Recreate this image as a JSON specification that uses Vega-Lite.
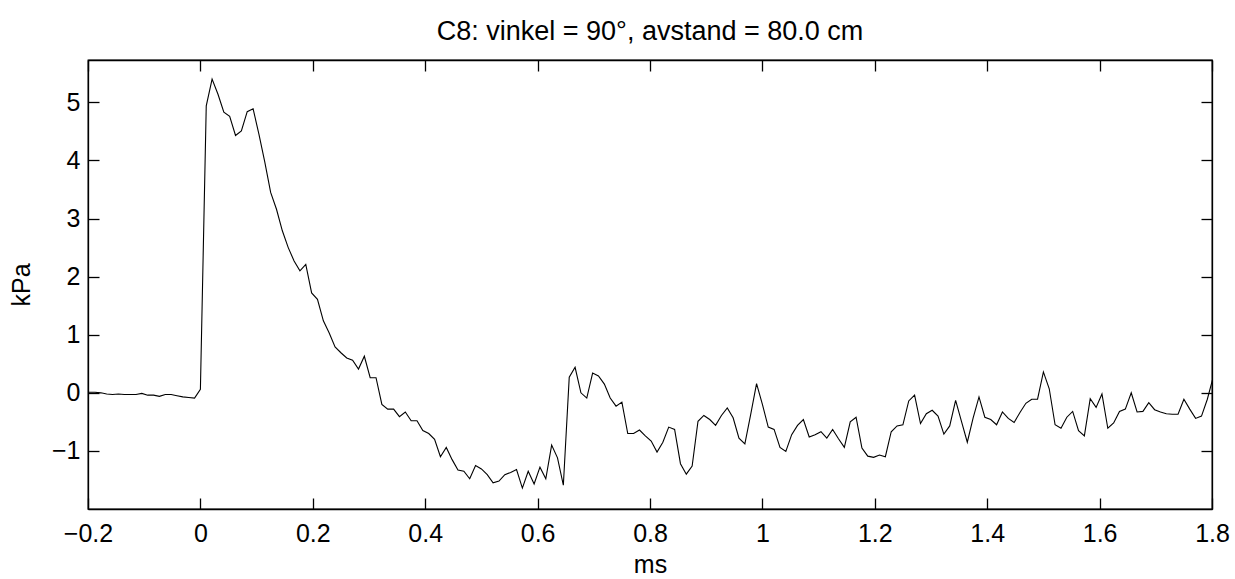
{
  "$schema": "https://vega.github.io/schema/vega-lite/v6.json",
  "width": 1124,
  "height": 449,
  "autosize": "none",
  "padding": {"left": 88, "top": 60, "right": 23, "bottom": 70},
  "background": "white",
  "config": {"view": {"stroke": "black", "strokeWidth": 1.3}, "font": "Liberation Sans"},
  "title": {"text": "C8: vinkel = 90°, avstand = 80.0 cm", "fontSize": 27, "fontWeight": "normal", "font": "Liberation Sans", "color": "black", "offset": 13},
  "data": {"values": [
    {"t": -0.2083, "p": 0.01}, {"t": -0.1979, "p": 0.01}, {"t": -0.1875, "p": 0.01}, {"t": -0.1771, "p": 0.0},
    {"t": -0.1667, "p": -0.02}, {"t": -0.1563, "p": -0.03}, {"t": -0.1458, "p": -0.02}, {"t": -0.1354, "p": -0.03},
    {"t": -0.125, "p": -0.03}, {"t": -0.1146, "p": -0.03}, {"t": -0.1042, "p": -0.01}, {"t": -0.0938, "p": -0.04},
    {"t": -0.0833, "p": -0.04}, {"t": -0.0729, "p": -0.06}, {"t": -0.0625, "p": -0.03}, {"t": -0.0521, "p": -0.03},
    {"t": -0.0417, "p": -0.05}, {"t": -0.0313, "p": -0.07}, {"t": -0.0208, "p": -0.08}, {"t": -0.0104, "p": -0.09},
    {"t": 0.0, "p": 0.06}, {"t": 0.0104, "p": 4.94}, {"t": 0.0208, "p": 5.40}, {"t": 0.0313, "p": 5.14},
    {"t": 0.0417, "p": 4.83}, {"t": 0.0521, "p": 4.76}, {"t": 0.0625, "p": 4.43}, {"t": 0.0729, "p": 4.51},
    {"t": 0.0833, "p": 4.84}, {"t": 0.0938, "p": 4.89}, {"t": 0.1042, "p": 4.45}, {"t": 0.1146, "p": 3.97},
    {"t": 0.125, "p": 3.45}, {"t": 0.1354, "p": 3.16}, {"t": 0.1458, "p": 2.79}, {"t": 0.1563, "p": 2.50},
    {"t": 0.1667, "p": 2.27}, {"t": 0.1771, "p": 2.10}, {"t": 0.1875, "p": 2.21}, {"t": 0.1979, "p": 1.72},
    {"t": 0.2083, "p": 1.61}, {"t": 0.2188, "p": 1.24}, {"t": 0.2292, "p": 1.03}, {"t": 0.2396, "p": 0.79},
    {"t": 0.25, "p": 0.69}, {"t": 0.2604, "p": 0.60}, {"t": 0.2708, "p": 0.56}, {"t": 0.2813, "p": 0.41},
    {"t": 0.2917, "p": 0.63}, {"t": 0.3021, "p": 0.26}, {"t": 0.3125, "p": 0.26}, {"t": 0.3229, "p": -0.20},
    {"t": 0.3333, "p": -0.28}, {"t": 0.3438, "p": -0.28}, {"t": 0.3542, "p": -0.41}, {"t": 0.3646, "p": -0.33},
    {"t": 0.375, "p": -0.48}, {"t": 0.3854, "p": -0.48}, {"t": 0.3958, "p": -0.65}, {"t": 0.4063, "p": -0.70},
    {"t": 0.4167, "p": -0.80}, {"t": 0.4271, "p": -1.10}, {"t": 0.4375, "p": -0.94}, {"t": 0.4479, "p": -1.15},
    {"t": 0.4583, "p": -1.33}, {"t": 0.4688, "p": -1.35}, {"t": 0.4792, "p": -1.48}, {"t": 0.4896, "p": -1.25},
    {"t": 0.5, "p": -1.31}, {"t": 0.5104, "p": -1.41}, {"t": 0.5208, "p": -1.55}, {"t": 0.5313, "p": -1.52},
    {"t": 0.5417, "p": -1.41}, {"t": 0.5521, "p": -1.37}, {"t": 0.5625, "p": -1.32}, {"t": 0.5729, "p": -1.64},
    {"t": 0.5833, "p": -1.35}, {"t": 0.5938, "p": -1.57}, {"t": 0.6042, "p": -1.28}, {"t": 0.6146, "p": -1.48},
    {"t": 0.625, "p": -0.90}, {"t": 0.6354, "p": -1.12}, {"t": 0.6458, "p": -1.59}, {"t": 0.6563, "p": 0.27},
    {"t": 0.6667, "p": 0.44}, {"t": 0.6771, "p": 0.0}, {"t": 0.6875, "p": -0.09}, {"t": 0.6979, "p": 0.34},
    {"t": 0.7083, "p": 0.29}, {"t": 0.7188, "p": 0.15}, {"t": 0.7292, "p": -0.09}, {"t": 0.7396, "p": -0.23},
    {"t": 0.75, "p": -0.16}, {"t": 0.7604, "p": -0.70}, {"t": 0.7708, "p": -0.70}, {"t": 0.7813, "p": -0.64},
    {"t": 0.7917, "p": -0.74}, {"t": 0.8021, "p": -0.83}, {"t": 0.8125, "p": -1.02}, {"t": 0.8229, "p": -0.85},
    {"t": 0.8333, "p": -0.59}, {"t": 0.8438, "p": -0.63}, {"t": 0.8542, "p": -1.22}, {"t": 0.8646, "p": -1.40},
    {"t": 0.875, "p": -1.26}, {"t": 0.8854, "p": -0.49}, {"t": 0.8958, "p": -0.39}, {"t": 0.9063, "p": -0.46},
    {"t": 0.9167, "p": -0.56}, {"t": 0.9271, "p": -0.39}, {"t": 0.9375, "p": -0.26}, {"t": 0.9479, "p": -0.43},
    {"t": 0.9583, "p": -0.78}, {"t": 0.9688, "p": -0.88}, {"t": 0.9792, "p": -0.37}, {"t": 0.9896, "p": 0.16},
    {"t": 1.0, "p": -0.20}, {"t": 1.0104, "p": -0.59}, {"t": 1.0208, "p": -0.63}, {"t": 1.0313, "p": -0.94},
    {"t": 1.0417, "p": -1.01}, {"t": 1.0521, "p": -0.72}, {"t": 1.0625, "p": -0.56}, {"t": 1.0729, "p": -0.46},
    {"t": 1.0833, "p": -0.76}, {"t": 1.0938, "p": -0.72}, {"t": 1.1042, "p": -0.67}, {"t": 1.1146, "p": -0.78},
    {"t": 1.125, "p": -0.63}, {"t": 1.1354, "p": -0.79}, {"t": 1.1458, "p": -0.94}, {"t": 1.1563, "p": -0.50},
    {"t": 1.1667, "p": -0.42}, {"t": 1.1771, "p": -0.95}, {"t": 1.1875, "p": -1.09}, {"t": 1.1979, "p": -1.11},
    {"t": 1.2083, "p": -1.07}, {"t": 1.2188, "p": -1.10}, {"t": 1.2292, "p": -0.67}, {"t": 1.2396, "p": -0.57},
    {"t": 1.25, "p": -0.55}, {"t": 1.2604, "p": -0.14}, {"t": 1.2708, "p": -0.04}, {"t": 1.2813, "p": -0.53},
    {"t": 1.2917, "p": -0.36}, {"t": 1.3021, "p": -0.30}, {"t": 1.3125, "p": -0.40}, {"t": 1.3229, "p": -0.71},
    {"t": 1.3333, "p": -0.57}, {"t": 1.3438, "p": -0.13}, {"t": 1.3542, "p": -0.49}, {"t": 1.3646, "p": -0.85},
    {"t": 1.375, "p": -0.43}, {"t": 1.3854, "p": -0.07}, {"t": 1.3958, "p": -0.42}, {"t": 1.4063, "p": -0.46},
    {"t": 1.4167, "p": -0.55}, {"t": 1.4271, "p": -0.33}, {"t": 1.4375, "p": -0.44}, {"t": 1.4479, "p": -0.51},
    {"t": 1.4583, "p": -0.34}, {"t": 1.4688, "p": -0.18}, {"t": 1.4792, "p": -0.11}, {"t": 1.4896, "p": -0.11},
    {"t": 1.5, "p": 0.36}, {"t": 1.5104, "p": 0.07}, {"t": 1.5208, "p": -0.55}, {"t": 1.5313, "p": -0.61},
    {"t": 1.5417, "p": -0.42}, {"t": 1.5521, "p": -0.32}, {"t": 1.5625, "p": -0.65}, {"t": 1.5729, "p": -0.74},
    {"t": 1.5833, "p": -0.10}, {"t": 1.5938, "p": -0.25}, {"t": 1.6042, "p": -0.02}, {"t": 1.6146, "p": -0.61},
    {"t": 1.625, "p": -0.52}, {"t": 1.6354, "p": -0.32}, {"t": 1.6458, "p": -0.28}, {"t": 1.6563, "p": 0.0},
    {"t": 1.6667, "p": -0.33}, {"t": 1.6771, "p": -0.32}, {"t": 1.6875, "p": -0.17}, {"t": 1.6979, "p": -0.29},
    {"t": 1.7083, "p": -0.33}, {"t": 1.7188, "p": -0.36}, {"t": 1.7292, "p": -0.37}, {"t": 1.7396, "p": -0.37},
    {"t": 1.75, "p": -0.11}, {"t": 1.7604, "p": -0.28}, {"t": 1.7708, "p": -0.44}, {"t": 1.7813, "p": -0.40},
    {"t": 1.7917, "p": -0.11}, {"t": 1.8021, "p": 0.27}
  ]},
  "layer": [
    {
      "mark": {"type": "line", "color": "black", "strokeWidth": 1.1, "clip": true},
      "encoding": {
        "x": {"field": "t", "type": "quantitative",
          "scale": {"domain": [-0.2, 1.8], "nice": false, "zero": false},
          "axis": {"orient": "bottom", "values": [-0.2, 0, 0.2, 0.4, 0.6, 0.8, 1, 1.2, 1.4, 1.6, 1.8],
            "labelExpr": "format(datum.value, '~g')", "grid": false, "labelFlush": false, "labelOverlap": false,
            "tickSize": -11, "tickColor": "black", "tickWidth": 1.3,
            "domainColor": "black", "domainWidth": 1.3,
            "labelFontSize": 25, "labelColor": "black", "labelPadding": 23, "labelFont": "Liberation Sans",
            "title": "ms", "titleFontSize": 25, "titleFontWeight": "normal", "titleColor": "black", "titleFont": "Liberation Sans",
            "titleY": 63, "titleBaseline": "alphabetic"}},
        "y": {"field": "p", "type": "quantitative",
          "scale": {"domain": [-2, 5.73], "nice": false, "zero": false},
          "axis": {"orient": "left", "values": [-1, 0, 1, 2, 3, 4, 5], "grid": false, "labelFlush": false, "labelOverlap": false,
            "tickSize": -11, "tickColor": "black", "tickWidth": 1.3,
            "domainColor": "black", "domainWidth": 1.3,
            "labelFontSize": 25, "labelColor": "black", "labelPadding": 19, "labelFont": "Liberation Sans",
            "title": "kPa", "titleFontSize": 25, "titleFontWeight": "normal", "titleColor": "black", "titleFont": "Liberation Sans",
            "titleX": -59, "titleY": 224.5, "titleBaseline": "alphabetic", "titleAlign": "center"}}
      }
    },
    {
      "mark": {"type": "line", "opacity": 0, "clip": true},
      "encoding": {
        "x": {"field": "t", "type": "quantitative",
          "scale": {"domain": [-0.2, 1.8], "nice": false, "zero": false},
          "axis": {"orient": "top", "values": [-0.2, 0, 0.2, 0.4, 0.6, 0.8, 1, 1.2, 1.4, 1.6, 1.8],
            "labels": false, "grid": false, "title": null,
            "tickSize": -11, "tickColor": "black", "tickWidth": 1.3,
            "domainColor": "black", "domainWidth": 1.3}},
        "y": {"field": "p", "type": "quantitative",
          "scale": {"domain": [-2, 5.73], "nice": false, "zero": false},
          "axis": {"orient": "right", "values": [-1, 0, 1, 2, 3, 4, 5],
            "labels": false, "grid": false, "title": null,
            "tickSize": -11, "tickColor": "black", "tickWidth": 1.3,
            "domainColor": "black", "domainWidth": 1.3}}
      }
    }
  ],
  "resolve": {"scale": {"x": "independent", "y": "independent"}, "axis": {"x": "independent", "y": "independent"}}
}
